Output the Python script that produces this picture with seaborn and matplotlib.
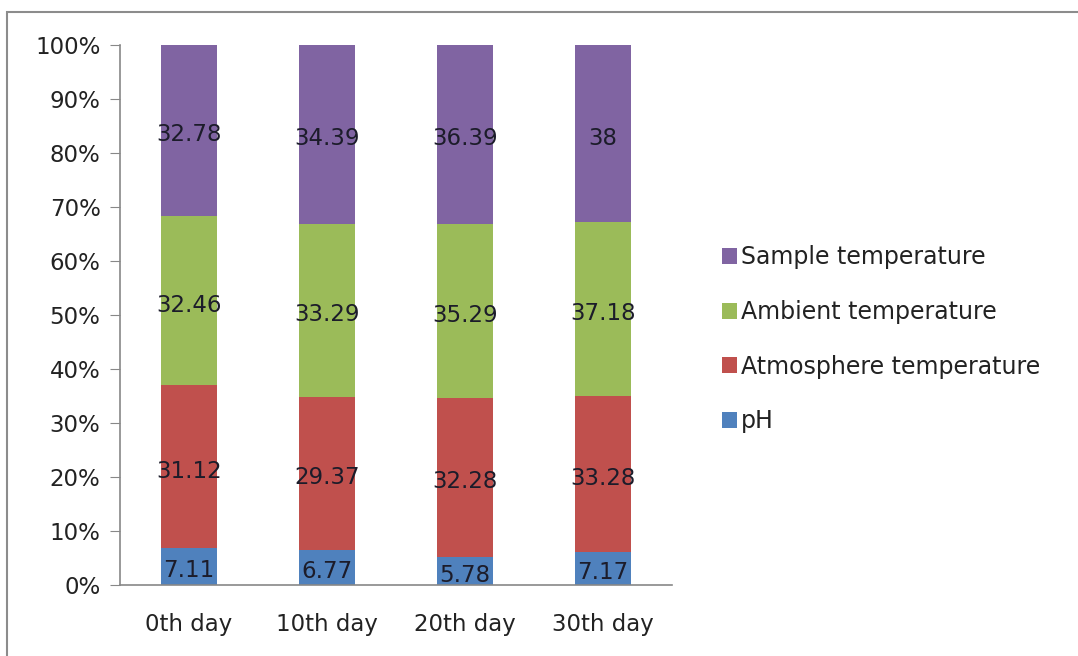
import numpy as np
import pandas as pd
import seaborn as sns
import matplotlib
matplotlib.use("Agg")
import matplotlib.pyplot as plt
from matplotlib.patches import Rectangle
from matplotlib.ticker import PercentFormatter

# data
days = ["0th day", "10th day", "20th day", "30th day"]
series = ["pH", "Atmosphere temperature", "Ambient temperature", "Sample temperature"]
ph = [7.11, 6.77, 5.78, 7.17]
atmosphere = [31.12, 29.37, 32.28, 33.28]
ambient = [32.46, 33.29, 35.29, 37.18]
sample = [32.78, 34.39, 36.39, 38]
colors = ["#4F81BD", "#C0504D", "#9BBB59", "#8064A2"]

sns.set_style("white")
plt.rcParams['font.family'] = ['DejaVu Sans']
FS = 16.5

values = np.array([ph, atmosphere, ambient, sample])
pct = values / values.sum(axis=0) * 100
cum = pct.cumsum(axis=0)

fig = plt.figure(figsize=(10.78, 6.56), dpi=100)
ax = fig.add_axes([120 / 1078, 1 - 585 / 656, 552 / 1078, 540 / 656])

# draw cumulative layers from top to bottom so each one shows its own segment
for i in range(len(series) - 1, -1, -1):
    df = pd.DataFrame({"day": days, "value": cum[i]})
    sns.barplot(data=df, x="day", y="value", color=colors[i], width=0.41,
                saturation=1, linewidth=0, ax=ax, label=series[i])

# value labels in the middle of each segment
for i in range(len(series)):
    for j in range(len(days)):
        mid = cum[i, j] - pct[i, j] / 2
        ax.text(j, mid - 0.8, f"{values[i, j]:g}", ha="center", va="center",
                fontsize=FS, color="#1c1c2a")

ax.set_xlim(-0.5, len(days) - 0.5)
ax.set_ylim(0, 100)
ax.set_yticks(np.arange(0, 101, 10))
ax.yaxis.set_major_formatter(PercentFormatter(decimals=0))
ax.set_xlabel("")
ax.set_ylabel("")

# excel-like axes: category ticks between groups
ax.set_xticks(np.arange(-0.5, len(days), 1), minor=False)
ax.set_xticklabels([])
ax.set_xticks(np.arange(len(days)), minor=True)
ax.set_xticklabels(days, minor=True)
ax.tick_params(axis="x", which="major", direction="out", length=7, color="#888888")
ax.tick_params(axis="x", which="minor", length=0, labelsize=FS, pad=20, labelcolor="#222222")
ax.tick_params(axis="y", direction="out", length=7, color="#888888", labelsize=FS,
               pad=7, labelcolor="#222222", left=True)

for s in ["top", "right"]:
    ax.spines[s].set_visible(False)
for s in ["left", "bottom"]:
    ax.spines[s].set_color("#888888")
    ax.spines[s].set_linewidth(1.2)

handles, labels = ax.get_legend_handles_labels()
leg = ax.legend(handles, labels, loc="center left", bbox_to_anchor=(1.09, 0.455),
                frameon=False, fontsize=17, labelspacing=1.3, handlelength=0.65,
                handleheight=0.65, handletextpad=0.15, borderaxespad=0, borderpad=0)
for t in leg.get_texts():
    t.set_color("#222222")

# outer chart border
fig.patches.append(Rectangle((7 / 1078, -0.01), 1.0, (656 - 12) / 656 + 0.01,
                             transform=fig.transFigure, fill=False,
                             edgecolor="#8c8c8c", linewidth=1.5))

fig.savefig("out.png", dpi=100)
